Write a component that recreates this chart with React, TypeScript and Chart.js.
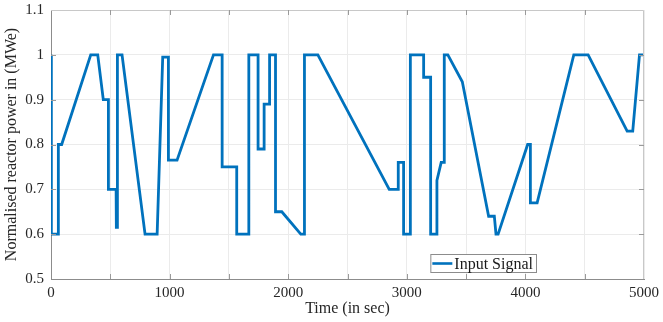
import React, { useEffect, useRef } from "react";
import { Chart, registerables } from "chart.js";
Chart.register(...registerables);

const seriesLabel = "Input Signal";
const xTitle = "Time (in sec)";
const yTitle = "Normalised reactor power in (MWe)";

const times = [
  0, 3, 62, 62, 90, 335, 394, 441, 484, 484, 549, 551, 557, 560, 599, 793, 895, 942, 990, 990,
  1063, 1370, 1443, 1443, 1566, 1566, 1668, 1668, 1746, 1746, 1797, 1797, 1843, 1843, 1893, 1893,
  1946, 2106, 2137, 2137, 2250, 2852, 2928, 2928, 2973, 2973, 3030, 3030, 3142, 3142, 3201, 3201,
  3254, 3254, 3290, 3316, 3316, 3346, 3468, 3690, 3738, 3752, 3770, 4019, 4042, 4042, 4099, 4408,
  4529, 4858, 4905, 4962, 5000,
];
const power = [
  1.0, 0.6, 0.6, 0.8, 0.8, 1.0, 1.0, 0.9, 0.9, 0.7, 0.7, 0.615, 0.615, 1.0, 1.0, 0.6, 0.6, 0.995, 0.995, 0.765,
  0.765, 1.0, 1.0, 0.75, 0.75, 0.6, 0.6, 1.0, 1.0, 0.79, 0.79, 0.89, 0.89, 1.0, 1.0, 0.65,
  0.65, 0.6, 0.6, 1.0, 1.0, 0.7, 0.7, 0.76, 0.76, 0.6, 0.6, 1.0, 1.0, 0.95, 0.95, 0.6,
  0.6, 0.72, 0.76, 0.76, 1.0, 1.0, 0.94, 0.64, 0.64, 0.6, 0.6, 0.8, 0.8, 0.67, 0.67, 1.0,
  1.0, 0.83, 0.83, 1.0, 1.0,
];

const xMin = 0, xMax = 5000, xStep = 500, xLabelStep = 1000;
const yMin = 0.5, yMax = 1.1, yStep = 0.1;

const FONT = "'Liberation Serif', 'Times New Roman', serif";
const LINE = "#0072BD";

const boxPlugin = {
  id: "box",
  afterDraw(chart: any) {
    const { ctx, chartArea: a, scales } = chart;
    ctx.save();
    ctx.strokeStyle = "#c8c8c8";
    ctx.lineWidth = 1;
    ctx.beginPath();
    ctx.moveTo(a.left, a.top + 0.5);
    ctx.lineTo(a.right - 0.5, a.top + 0.5);
    ctx.lineTo(a.right - 0.5, a.bottom);
    ctx.stroke();
    ctx.strokeStyle = "#9a9a9a";
    ctx.beginPath();
    const tl = 5;
    scales.x.ticks.forEach((t: any) => {
      const px = Math.round(scales.x.getPixelForValue(t.value)) + 0.5;
      if (px <= a.left + 1 || px >= a.right - 1) return;
      ctx.moveTo(px, a.bottom);
      ctx.lineTo(px, a.bottom - tl);
      ctx.moveTo(px, a.top);
      ctx.lineTo(px, a.top + tl);
    });
    scales.y.ticks.forEach((t: any) => {
      const py = Math.round(scales.y.getPixelForValue(t.value)) + 0.5;
      if (py <= a.top + 1 || py >= a.bottom - 1) return;
      ctx.moveTo(a.left, py);
      ctx.lineTo(a.left + tl, py);
      ctx.moveTo(a.right, py);
      ctx.lineTo(a.right - tl, py);
    });
    ctx.stroke();
    ctx.restore();
  },
};

const legendPlugin = {
  id: "insideLegend",
  afterDraw(chart: any) {
    const { ctx, chartArea: a } = chart;
    const label = chart.data.datasets[0].label;
    ctx.save();
    ctx.font = `16px ${FONT}`;
    const tw = ctx.measureText(label).width;
    const w = 24 + tw + 3;
    const h = 18;
    const x = a.right - 108 - w;
    const y = a.bottom - 7 - h;
    ctx.fillStyle = "#ffffff";
    ctx.fillRect(x, y, w, h);
    ctx.strokeStyle = "#8c8c8c";
    ctx.lineWidth = 1;
    ctx.strokeRect(x + 0.5, y + 0.5, w, h);
    ctx.strokeStyle = chart.data.datasets[0].borderColor;
    ctx.lineWidth = 2.6;
    ctx.beginPath();
    ctx.moveTo(x + 2, y + h / 2 + 0.5);
    ctx.lineTo(x + 22, y + h / 2 + 0.5);
    ctx.stroke();
    ctx.fillStyle = "#1a1a1a";
    ctx.textBaseline = "middle";
    ctx.fillText(label, x + 24, y + h / 2 + 1.5);
    ctx.restore();
  },
};

export default function App() {
  const ref = useRef<HTMLCanvasElement>(null);
  useEffect(() => {
    const canvas = ref.current!;
    const chart = new Chart(canvas, {
      type: "line",
      data: {
        datasets: [
          {
            label: seriesLabel,
            data: times.map((t, i) => ({ x: t, y: power[i] })),
            borderColor: LINE,
            backgroundColor: LINE,
            borderWidth: 2.8,
            pointRadius: 0,
            fill: false,
            tension: 0,
            borderJoinStyle: "miter",
          },
        ],
      },
      options: {
        animation: false,
        responsive: false,
        maintainAspectRatio: false,
        layout: { padding: { left: 0, right: 19, top: 10, bottom: 0 } },
        plugins: { legend: { display: false }, tooltip: { enabled: false } },
        scales: {
          x: {
            type: "linear",
            min: xMin,
            max: xMax,
            afterFit: (s: any) => {
              s.height = 43;
              s.paddingLeft = 0;
              s.paddingRight = 0;
            },
            ticks: {
              stepSize: xStep,
              autoSkip: false,
              maxRotation: 0,
              padding: 5,
              color: "#262626",
              font: { family: FONT, size: 15 },
              callback: (v: any) => (Number(v) % xLabelStep === 0 ? String(v) : ""),
            },
            grid: { color: "#ebebeb", drawTicks: false },
            border: { color: "#8c8c8c" },
            title: {
              display: true,
              text: xTitle,
              color: "#262626",
              font: { family: FONT, size: 16 },
              padding: { top: 0, bottom: 4 },
            },
          },
          y: {
            min: yMin,
            max: yMax,
            afterFit: (s: any) => {
              s.width = 51;
              s.paddingTop = 0;
              s.paddingBottom = 0;
            },
            ticks: {
              stepSize: yStep,
              padding: 7,
              color: "#262626",
              font: { family: FONT, size: 15 },
              callback: (v: any) => String(Math.round(Number(v) * 10) / 10),
            },
            grid: { color: "#ebebeb", drawTicks: false },
            border: { color: "#8c8c8c" },
            title: {
              display: true,
              text: yTitle,
              color: "#262626",
              font: { family: FONT, size: 16 },
              padding: { top: 2, bottom: 0 },
            },
          },
        },
      },
      plugins: [boxPlugin, legendPlugin],
    } as any);
    return () => chart.destroy();
  }, []);
  return (
    <div style={{ position: "fixed", left: 0, top: 0, width: 663, height: 322, background: "#fff" }}>
      <canvas ref={ref} width={663} height={322} style={{ display: "block" }} />
    </div>
  );
}
